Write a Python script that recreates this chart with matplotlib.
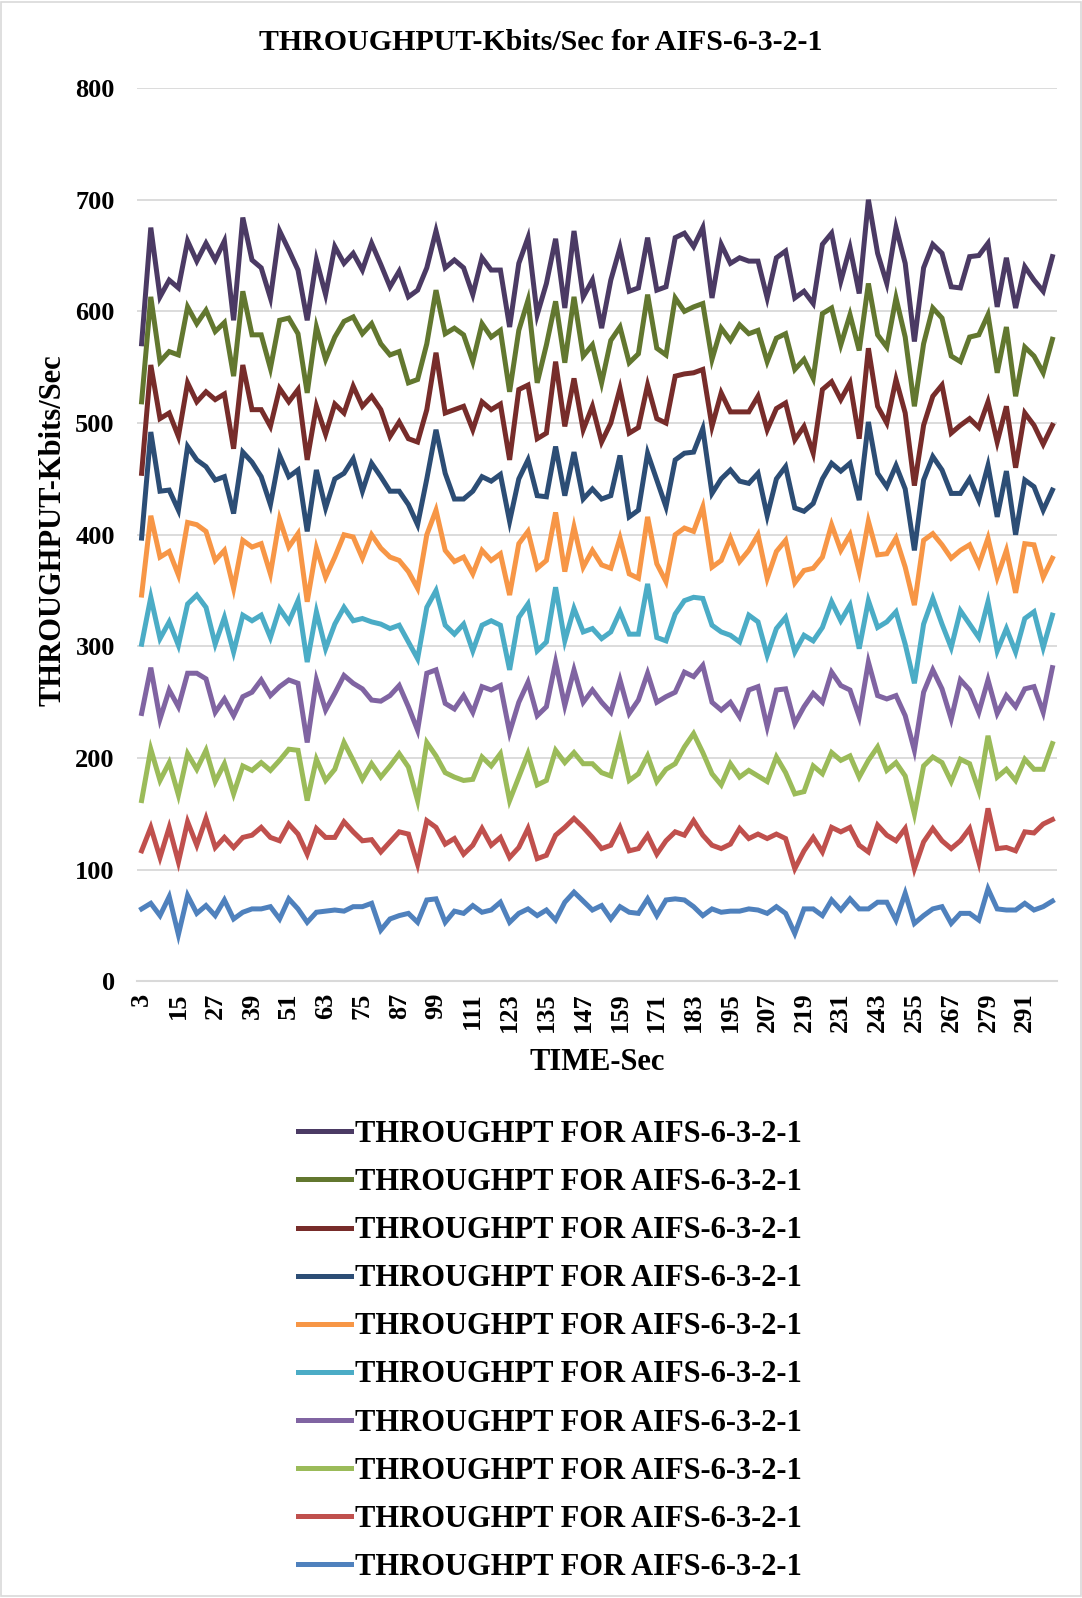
"""
Throughput (Kbits/Sec) over time for AIFS-6-3-2-1, ten stacked runs.
"""

import matplotlib
matplotlib.use("Agg")
import matplotlib.pyplot as plt
from matplotlib.patches import Rectangle

plt.rcParams["font.family"] = ["Liberation Serif", "DejaVu Serif"]
plt.rcParams["font.weight"] = "bold"

# time axis: 3, 6, ..., 300 sec (100 samples)
time_sec = list(range(3, 301, 3))

s1 = [571, 675, 613, 628, 621, 663, 645, 661, 646, 663, 592, 684, 646, 639, 612, 672, 655, 637,
      592, 646, 615, 658, 643, 652, 637, 661, 642, 622, 636, 613, 619, 639, 672, 639, 646,
      639, 615, 648, 637, 637, 586, 643, 666, 597, 625, 665, 603, 672, 613, 628, 585, 628, 657,
      618, 621, 666, 619, 622, 666, 670, 658, 675, 612, 660, 643, 648, 645, 645, 612, 648,
      654, 612, 618, 607, 660, 670, 627, 657, 616, 700, 652, 625, 675, 643, 573, 639, 660,
      652, 622, 621, 649, 650, 661, 604, 648, 603, 640, 628, 618, 649]
s2 = [519, 613, 555, 564, 561, 604, 589, 601, 582, 590, 542, 618, 579, 579, 549, 592, 594, 580,
      527, 586, 557, 577, 591, 595, 580, 589, 571, 561, 564, 536, 539, 571, 619, 580, 585,
      579, 555, 589, 577, 583, 528, 583, 610, 536, 570, 609, 554, 613, 560, 570, 536, 574, 586,
      554, 562, 615, 567, 561, 612, 600, 604, 607, 557, 585, 574, 588, 580, 583, 555, 576,
      580, 548, 557, 540, 598, 603, 570, 597, 565, 625, 579, 568, 612, 577, 515, 571, 603,
      594, 560, 555, 577, 579, 597, 545, 586, 524, 568, 560, 545, 575]
s3 = [455, 552, 504, 509, 488, 536, 519, 528, 521, 526, 477, 552, 512, 512, 497, 531, 519, 530,
      467, 515, 490, 517, 509, 533, 515, 524, 512, 488, 501, 486, 483, 512, 563, 509, 512,
      515, 494, 519, 512, 517, 467, 530, 534, 486, 491, 555, 497, 540, 494, 515, 483, 500, 531,
      491, 496, 534, 504, 500, 542, 544, 545, 548, 497, 527, 510, 510, 510, 524, 494, 513,
      518, 485, 497, 473, 530, 537, 521, 536, 486, 567, 515, 500, 539, 509, 444, 498, 524,
      534, 491, 498, 504, 496, 519, 483, 515, 460, 509, 498, 481, 498]
s4 = [397, 492, 439, 440, 422, 479, 467, 461, 449, 452, 419, 474, 465, 452, 427, 471, 452, 458,
      403, 458, 424, 450, 455, 468, 439, 464, 452, 439, 439, 427, 409, 450, 494, 455, 432,
      432, 439, 452, 448, 454, 412, 450, 467, 435, 434, 479, 435, 474, 432, 441, 432, 435, 471,
      416, 422, 473, 449, 425, 467, 473, 474, 495, 437, 450, 458, 448, 446, 455, 417, 450,
      461, 424, 421, 428, 450, 464, 457, 464, 431, 501, 455, 443, 462, 441, 386, 449, 470,
      458, 437, 437, 450, 431, 462, 416, 457, 400, 449, 443, 422, 440]
s5 = [346, 417, 380, 385, 364, 411, 409, 403, 377, 386, 352, 395, 389, 392, 365, 414, 389, 401,
      340, 388, 362, 380, 400, 398, 379, 400, 388, 380, 377, 367, 352, 400, 422, 386, 376,
      380, 365, 386, 377, 383, 346, 392, 403, 370, 377, 420, 367, 407, 371, 386, 373, 370, 397,
      365, 361, 416, 374, 358, 400, 406, 403, 425, 371, 377, 397, 376, 386, 400, 361, 385,
      395, 357, 368, 370, 380, 409, 386, 400, 367, 412, 382, 383, 397, 371, 337, 395, 401,
      391, 379, 386, 391, 373, 397, 362, 386, 348, 392, 391, 362, 379]
s6 = [302, 344, 307, 322, 301, 338, 346, 335, 302, 326, 295, 328, 323, 328, 308, 334, 322, 341,
      286, 331, 298, 320, 335, 323, 325, 322, 320, 316, 319, 304, 289, 335, 350, 319, 311,
      320, 296, 319, 323, 319, 279, 326, 338, 296, 304, 353, 305, 334, 313, 316, 307, 313, 331,
      311, 311, 356, 308, 305, 329, 341, 344, 343, 319, 313, 310, 304, 328, 322, 292, 316,
      326, 295, 310, 305, 317, 340, 323, 337, 298, 341, 317, 322, 331, 302, 267, 320, 343,
      320, 299, 332, 320, 308, 340, 296, 316, 295, 325, 331, 299, 328]
s7 = [240, 281, 235, 261, 246, 276, 276, 271, 241, 253, 238, 255, 259, 270, 256, 264, 270, 267,
      214, 270, 243, 258, 274, 267, 262, 252, 251, 256, 265, 246, 225, 276, 279, 249, 244,
      256, 241, 264, 261, 265, 223, 250, 268, 238, 246, 286, 247, 279, 250, 261, 250, 241, 270,
      240, 252, 276, 250, 255, 259, 277, 273, 283, 250, 243, 250, 237, 261, 264, 228, 261,
      262, 231, 246, 258, 250, 277, 265, 261, 237, 286, 256, 253, 256, 238, 207, 259, 279,
      262, 235, 270, 261, 241, 270, 240, 256, 246, 262, 264, 241, 281]
s8 = [162, 208, 180, 196, 167, 204, 190, 207, 179, 195, 168, 193, 189, 196, 189, 198, 208, 207,
      162, 199, 180, 190, 214, 198, 181, 195, 183, 193, 204, 192, 162, 214, 202, 187, 183,
      180, 181, 201, 193, 204, 162, 183, 204, 176, 180, 207, 196, 205, 195, 195, 187, 184, 216,
      180, 186, 202, 179, 190, 195, 210, 222, 205, 186, 176, 195, 183, 189, 184, 179, 201,
      187, 168, 170, 193, 186, 205, 198, 202, 183, 198, 210, 189, 196, 184, 150, 193, 201,
      196, 179, 199, 195, 171, 220, 183, 190, 180, 199, 190, 190, 213]
s9 = [117, 138, 111, 138, 107, 143, 122, 146, 120, 129, 120, 129, 131, 138, 129, 126, 141, 132,
      114, 137, 129, 129, 143, 134, 126, 127, 116, 125, 134, 132, 105, 144, 138, 123, 128,
      114, 122, 137, 122, 129, 111, 120, 137, 110, 113, 131, 138, 146, 138, 129, 119, 122, 138,
      117, 119, 131, 114, 126, 134, 131, 144, 131, 122, 119, 123, 137, 128, 132, 128, 132,
      128, 101, 117, 129, 116, 138, 134, 138, 122, 116, 140, 131, 126, 137, 101, 125, 137,
      126, 119, 126, 137, 107, 155, 119, 120, 117, 134, 133, 141, 145]
s10 = [65, 70, 59, 76, 42, 77, 61, 68, 59, 73, 56, 62, 65, 65, 67, 56, 74, 65,
       53, 62, 63, 64, 63, 67, 67, 70, 46, 56, 59, 61, 53, 73, 74, 53, 63,
       61, 68, 62, 64, 71, 53, 61, 65, 59, 64, 55, 71, 80, 72, 64, 68, 56, 67,
       62, 61, 74, 59, 73, 74, 73, 67, 59, 65, 62, 63, 63, 65, 64, 61, 67,
       61, 43, 65, 65, 59, 73, 64, 74, 65, 65, 71, 71, 55, 79, 52, 59, 65,
       67, 52, 61, 61, 55, 83, 65, 64, 64, 70, 64, 67, 72]

series = [s1, s2, s3, s4, s5, s6, s7, s8, s9, s10]
colors = ["#4B3A64", "#62772F", "#772C2A", "#2C4D75", "#F79646",
          "#4BACC6", "#8064A2", "#9BBB59", "#C0504D", "#4F81BD"]
legend_label = "THROUGHPT FOR AIFS-6-3-2-1"

W, H = 1082, 1598
fig = plt.figure(figsize=(W / 100, H / 100), dpi=100)
ax = fig.add_axes([137 / W, 1 - 981.5 / H, (1057 - 137) / W, (981.5 - 88) / H])

idx = list(range(len(time_sec)))
lines = []
for vals, c in zip(series, colors):
    ln, = ax.plot(idx, vals, color=c, lw=3.6, solid_joinstyle="miter")
    lines.append(ln)

ax.set_xlim(-0.5, len(time_sec) - 0.5)
ax.set_ylim(0, 800)
ax.set_yticks(range(0, 801, 100))
ax.set_xticks(idx[::4])
ax.set_xticklabels([str(t) for t in time_sec[::4]], rotation=90)
ax.tick_params(axis="both", length=0, labelsize=19)
ax.tick_params(axis="y", pad=16)
ax.tick_params(axis="x", pad=8)

ax.grid(axis="y", color="#D9D9D9", lw=1.3)
ax.set_axisbelow(True)
for side in ["left", "right", "top"]:
    ax.spines[side].set_visible(False)
ax.spines["bottom"].set_color("#D9D9D9")
ax.spines["bottom"].set_linewidth(1.5)

fig.text(0.5, 1 - 43 / H, "THROUGHPUT-Kbits/Sec for AIFS-6-3-2-1",
         ha="center", va="center", fontsize=21.5, fontweight="bold")
fig.text(53 / W, 1 - 530 / H, "THROUGHPUT-Kbits/Sec", rotation=90,
         ha="center", va="center", fontsize=22, fontweight="bold")
fig.text(597 / W, 1 - 1062 / H, "TIME-Sec",
         ha="center", va="center", fontsize=22, fontweight="bold")

fig.legend(lines, [legend_label] * len(lines), loc="upper left",
           bbox_to_anchor=(298 / W, 1 - 1120 / H), frameon=False,
           fontsize=22, handlelength=1.73, handletextpad=0.15,
           labelspacing=0.625, borderpad=0, borderaxespad=0)

fig.patches.append(Rectangle((0.001, 0.001), 0.998, 0.998, transform=fig.transFigure,
                             fill=False, edgecolor="#D9D9D9", lw=1.2))

plt.savefig("out.png", dpi=100)
